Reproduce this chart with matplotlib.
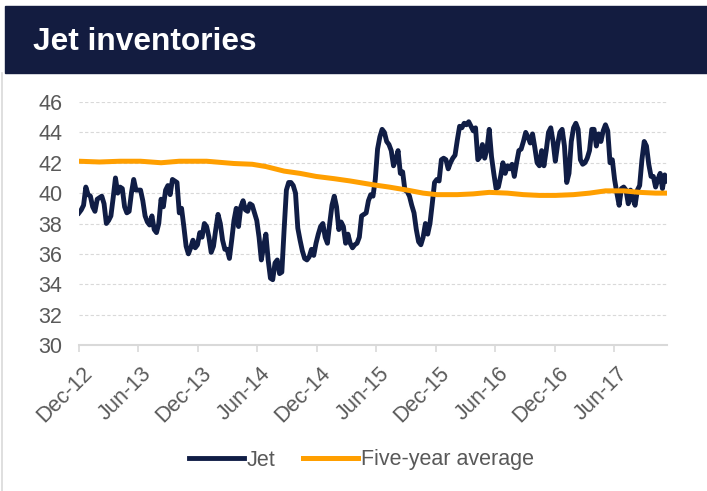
import numpy as np
import pandas as pd
import matplotlib
matplotlib.use("Agg")
import matplotlib.pyplot as plt
import matplotlib.dates as mdates
import matplotlib.transforms as mtransforms
from matplotlib.patches import Rectangle
from matplotlib.lines import Line2D

plt.rcParams['font.family'] = ['Liberation Sans', 'DejaVu Sans']

# weekly jet inventories (million bbl), week 0 = first week of Dec-12
start = pd.Timestamp("2012-12-07")
jet = [38.7, 38.9, 39.2, 40.4, 39.9, 39.8, 39.1, 38.8, 39.6, 39.7,
       39.8, 39.3, 38.0, 38.2, 38.5, 39.7, 41.0, 40.0, 40.4, 40.3,
       39.1, 38.7, 38.8, 40.0, 40.9, 40.2, 40.2, 40.2, 39.5, 38.5,
       38.1, 37.9, 38.5, 37.6, 37.4, 38.0, 39.6, 39.1, 40.2, 40.5,
       39.9, 40.9, 40.8, 40.7, 38.7, 39.0, 37.8, 36.5, 36.0, 36.4,
       36.9, 36.4, 36.6, 37.4, 37.1, 38.0, 37.8, 37.1, 36.1, 36.5,
       37.6, 38.6, 38.0, 36.9, 36.3, 36.3, 35.7, 36.9, 38.2, 39.0,
       37.8, 39.1, 39.5, 38.9, 38.8, 39.3, 39.2, 38.7, 38.2, 37.1,
       35.6, 36.5, 37.3, 35.6, 34.4, 34.3, 35.4, 35.6, 34.7, 34.8,
       37.6, 40.2, 40.7, 40.7, 40.5, 40.0, 37.7, 36.9, 36.2, 35.7,
       35.6, 35.8, 36.3, 35.9, 36.7, 37.3, 37.8, 38.0, 37.1, 36.7,
       38.0, 39.2, 39.8, 39.1, 37.6, 38.1, 37.8, 36.7, 37.3, 36.7,
       36.4, 36.6, 36.7, 37.1, 38.5, 38.6, 38.7, 39.5, 39.9, 39.8,
       40.9, 42.9, 43.7, 44.2, 44.0, 43.4, 43.2, 42.8, 41.8, 42.2,
       42.8, 41.3, 41.4, 40.2, 40.1, 39.8, 39.2, 38.7, 37.6, 36.8,
       36.6, 37.1, 38.0, 37.3, 38.0, 39.3, 40.7, 40.9, 40.8, 42.2,
       42.3, 42.2, 41.6, 42.0, 42.3, 42.5, 43.5, 44.4, 44.3, 44.6,
       44.5, 44.7, 44.4, 44.1, 44.3, 42.2, 42.4, 43.2, 42.3, 42.9,
       44.2, 42.4, 41.3, 40.3, 40.4, 41.1, 42.0, 41.3, 41.8, 41.6,
       41.9, 41.1, 42.0, 42.8, 42.9, 43.4, 44.0, 43.7, 43.3, 43.9,
       43.0, 42.0, 41.8, 42.8, 41.8, 42.8, 44.0, 44.3, 43.4, 42.1,
       43.2, 44.0, 44.2, 43.1, 40.7, 41.3, 43.4, 44.3, 44.6, 44.2,
       42.2, 41.9, 42.0, 42.3, 42.8, 44.2, 44.2, 43.1, 43.9, 43.4,
       44.1, 44.5, 44.1, 42.0, 42.2, 40.9, 40.0, 39.2, 40.3, 40.4,
       40.2, 39.3, 40.2, 39.6, 39.2, 40.2, 40.5, 42.2, 43.4, 43.1,
       41.9, 41.1, 41.1, 40.4, 40.9, 41.3, 40.3, 41.2, 40.8]

avg_weeks = [0, 9, 18, 27, 36, 44, 56, 68, 76, 82, 90, 97, 104, 112, 119,
             129, 136, 144, 151, 157, 166, 173, 180, 188, 195, 202, 209,
             217, 224, 231, 239, 246, 253, 258]
avg_vals = [42.1, 42.05, 42.1, 42.1, 42.0, 42.1, 42.1, 41.95, 41.9, 41.75,
            41.45, 41.3, 41.1, 40.95, 40.8, 40.55, 40.4, 40.2, 40.0, 39.9,
            39.9, 39.95, 40.05, 40.0, 39.9, 39.85, 39.85, 39.9, 40.0, 40.15,
            40.15, 40.05, 40.0, 40.0]

jet_dates = start + pd.to_timedelta(np.arange(len(jet)) * 7, unit="D")
avg_dates = start + pd.to_timedelta(np.array(avg_weeks) * 7, unit="D")

navy = '#101d45'
orange = '#ff9f00'
grey = '#595959'
fs = 15.5

fig = plt.figure(figsize=(7.07, 4.91), dpi=100)

# header band + title
fig.patches.append(Rectangle((5/707, 1-73/491), 1, 67/491,
                             transform=fig.transFigure, color='#131c40'))
fig.text(33/707, 1-42/491, 'Jet inventories', color='white', fontsize=22.8,
         fontweight='bold', va='center')
fig.lines.append(Line2D([2/707, 2/707], [0, 1-73/491], transform=fig.transFigure,
                        color='#d9d9d9', lw=1.2))

ax = fig.add_axes([79/707, 1-345/491, 588/707, 243/491])
ax.plot(jet_dates, jet, color=navy, lw=3.5, label='Jet', solid_joinstyle='round')
ax.plot(avg_dates, avg_vals, color=orange, lw=3.6, label='Five-year average')

ax.set_ylim(30, 46)
ax.set_yticks(range(30, 47, 2))
ax.set_xlim(start, jet_dates[-1])
ticks = [start + pd.DateOffset(months=6*k) for k in range(10)]
ax.set_xticks(ticks)
ax.xaxis.set_major_formatter(mdates.DateFormatter('%b-%y'))

ax.grid(axis='y', color='#d9d9d9', lw=0.8, ls=(0, (3, 2)))
ax.set_axisbelow(True)
for s in ['left', 'right', 'top']:
    ax.spines[s].set_visible(False)
ax.spines['bottom'].set_color('#d9d9d9')
ax.spines['bottom'].set_linewidth(1.5)
ax.tick_params(axis='y', length=0, labelsize=fs, labelcolor=grey, pad=12)
ax.tick_params(axis='x', length=5, width=1.2, color='#d9d9d9', labelsize=fs,
               labelcolor=grey, pad=8)
shift = mtransforms.ScaledTranslation(3/100, 0, fig.dpi_scale_trans)
for lab in ax.get_xticklabels():
    lab.set_rotation(45)
    lab.set_ha('right')
    lab.set_va('top')
    lab.set_rotation_mode('anchor')
    lab.set_transform(lab.get_transform() + shift)

fig.legend(loc='center', bbox_to_anchor=(0.511, 1-460/491), ncol=2,
           frameon=False, fontsize=fs, labelcolor=grey, handlelength=2.55,
           handletextpad=0.15, columnspacing=1.25)

fig.savefig('out.png', dpi=100)
